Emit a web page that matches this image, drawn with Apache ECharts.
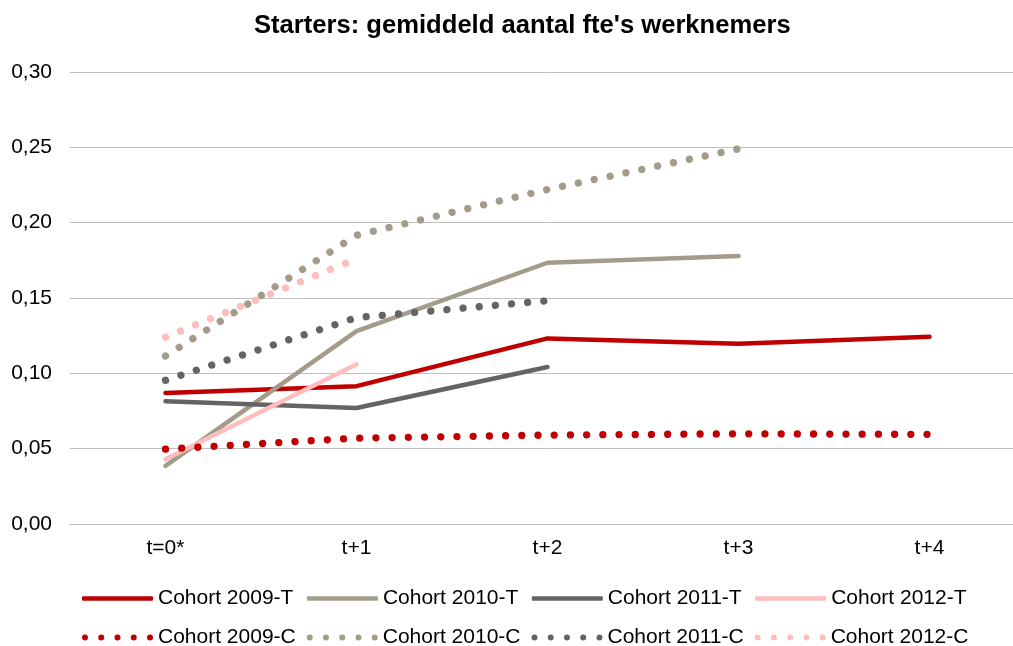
<!DOCTYPE html>
<html>
<head>
<meta charset="utf-8">
<script src="https://cdn.jsdelivr.net/npm/echarts@6/dist/echarts.min.js"></script>
<style>
html,body{margin:0;padding:0;background:#fff;overflow:hidden;width:1013px;height:646px;}
#chart{width:1025px;height:646px;}
</style>
</head>
<body>
<div id="chart"></div>
<script>
const categories = ['t=0*', 't+1', 't+2', 't+3', 't+4'];
const yTicks = [0, 0.05, 0.10, 0.15, 0.20, 0.25, 0.30];

const cohort2009T = [0.087, 0.0915, 0.1232, 0.1196, 0.1243];
const cohort2010T = [0.0386, 0.128, 0.1734, 0.1778, null];
const cohort2011T = [0.0815, 0.0770, 0.1042, null, null];
const cohort2012T = [0.043, 0.106, null, null, null];
const cohort2009C = [0.0497, 0.057, 0.059, 0.0599, 0.0595];
const cohort2010C = [0.1115, 0.1916, 0.222, 0.249, null];
const cohort2011C = [0.0954, 0.137, 0.1482, null, null];
const cohort2012C = [0.124, 0.176, null, null, null];

const RED = '#C00000', TAN = '#A49C8A', GRAY = '#646464', PINK = '#FFBDBD';
const FONT = 'Liberation Sans, Arial, sans-serif';

function solid(name, data, color) {
  return {
    name, type: 'line', data, symbol: 'none', smooth: false,
    lineStyle: { color, width: 4.5, cap: 'round', join: 'round' },
    itemStyle: { color },
    emphasis: { disabled: true }
  };
}
function dotted(name, data, color) {
  return {
    name, type: 'line', data, symbol: 'none', smooth: false,
    lineStyle: { color, width: 7.3, cap: 'round', type: [0.01, 16.2] },
    itemStyle: { color },
    emphasis: { disabled: true }
  };
}

// legend icons
const dotCenters = [3, 19.25, 35.5, 51.75, 68];
const dotIcon = 'path://' + dotCenters.map(c =>
  `M${c - 3},3 A3,3 0 1,0 ${c + 3},3 A3,3 0 1,0 ${c - 3},3 Z`).join(' ');

const chart = echarts.init(document.getElementById('chart'), null, { renderer: 'canvas' });
const legendText = { fontSize: 21, color: '#000', fontFamily: FONT };
const tNames = ['Cohort 2009-T', 'Cohort 2010-T', 'Cohort 2011-T', 'Cohort 2012-T'];
const cNames = ['Cohort 2009-C', 'Cohort 2010-C', 'Cohort 2011-C', 'Cohort 2012-C'];
chart.setOption({
  animation: false,
  backgroundColor: '#fff',
  title: {
    text: "Starters: gemiddeld aantal fte's werknemers",
    left: 254, top: 13, padding: 0,
    textStyle: { fontSize: 25.6, fontWeight: 'bold', color: '#000', fontFamily: FONT }
  },
  grid: { left: 70, right: 0, top: 72, bottom: 122, containLabel: false },
  legend: [
    {
      data: tNames.map(n => ({ name: n, icon: 'roundRect' })),
      left: 82, top: 588, padding: 0, itemWidth: 71, itemHeight: 4.6, itemGap: 13.5,
      itemStyle: { borderWidth: 0 },
      textStyle: legendText
    },
    {
      data: cNames.map(n => ({ name: n, icon: dotIcon })),
      left: 82, top: 627, padding: 0, itemWidth: 71, itemHeight: 6, itemGap: 11,
      itemStyle: { borderWidth: 0 },
      textStyle: legendText
    }
  ],
  xAxis: {
    type: 'category', data: categories, boundaryGap: true,
    axisLine: { show: true, lineStyle: { color: '#BFBFBF', width: 1 } },
    axisTick: { show: false },
    axisLabel: { fontSize: 21, color: '#000', fontFamily: FONT, margin: 14 }
  },
  yAxis: {
    type: 'value', min: yTicks[0], max: yTicks[yTicks.length - 1], interval: 0.05,
    axisLine: { show: false }, axisTick: { show: false },
    splitLine: { lineStyle: { color: '#BFBFBF', width: 1 } },
    axisLabel: {
      fontSize: 21, color: '#000', fontFamily: FONT, margin: 18,
      formatter: v => v.toFixed(2).replace('.', ',')
    }
  },
  series: [
    solid('Cohort 2009-T', cohort2009T, RED),
    solid('Cohort 2010-T', cohort2010T, TAN),
    solid('Cohort 2011-T', cohort2011T, GRAY),
    solid('Cohort 2012-T', cohort2012T, PINK),
    dotted('Cohort 2009-C', cohort2009C, RED),
    dotted('Cohort 2010-C', cohort2010C, TAN),
    dotted('Cohort 2011-C', cohort2011C, GRAY),
    dotted('Cohort 2012-C', cohort2012C, PINK)
  ]
});
</script>
</body>
</html>
